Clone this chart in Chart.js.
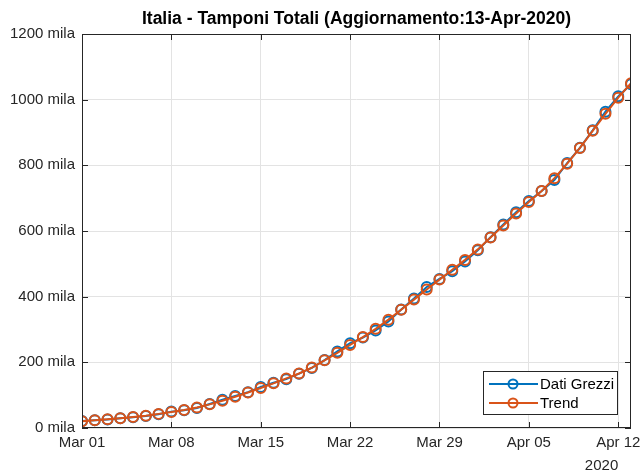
<!DOCTYPE html>
<html>
<head>
<meta charset="utf-8">
<script src="https://cdn.jsdelivr.net/npm/chart.js@4"></script>
<style>
  html, body { margin: 0; padding: 0; background: #fff; }
  #wrap { width: 643px; height: 474px; }
</style>
</head>
<body>
<div id="wrap"><canvas id="tamponi"></canvas></div>
<script>
// giorni dal 01-Mar al 13-Apr 2020
const days = ['Mar 01','Mar 02','Mar 03','Mar 04','Mar 05','Mar 06','Mar 07','Mar 08','Mar 09','Mar 10',
  'Mar 11','Mar 12','Mar 13','Mar 14','Mar 15','Mar 16','Mar 17','Mar 18','Mar 19','Mar 20',
  'Mar 21','Mar 22','Mar 23','Mar 24','Mar 25','Mar 26','Mar 27','Mar 28','Mar 29','Mar 30',
  'Mar 31','Apr 01','Apr 02','Apr 03','Apr 04','Apr 05','Apr 06','Apr 07','Apr 08','Apr 09',
  'Apr 10','Apr 11','Apr 12','Apr 13'];

// tamponi totali, in migliaia
const datiGrezzi = [21.1, 23.3, 25.9, 29.8, 32.4, 36.4, 42.1, 49.9, 53.8, 60.8,
  73.2, 86.0, 97.5, 109.2, 124.9, 138.0, 148.7, 165.5, 182.8, 206.9,
  233.2, 258.4, 275.5, 297.0, 324.4, 361.1, 394.1, 429.5, 454.0, 477.4,
  507.0, 541.4, 581.2, 619.8, 657.2, 691.5, 721.7, 755.4, 807.1, 853.4,
  906.9, 963.5, 1010.2, 1046.9];

const trend = [20.5, 23.5, 26.5, 30.0, 33.5, 37.5, 43.0, 48.5, 55.0, 62.5,
  72.0, 83.0, 95.0, 108.0, 122.0, 136.0, 151.0, 166.0, 184.0, 206.0,
  229.0, 253.0, 277.0, 302.0, 330.0, 360.0, 391.0, 422.0, 452.0, 482.0,
  512.0, 544.0, 580.0, 617.0, 653.0, 688.0, 722.0, 761.0, 805.0, 853.0,
  905.0, 957.0, 1006.0, 1050.0];

const xTicks = ['Mar 01', 'Mar 08', 'Mar 15', 'Mar 22', 'Mar 29', 'Apr 05', 'Apr 12'];
const yTicks = [0, 200, 400, 600, 800, 1000, 1200];

const titolo = 'Italia - Tamponi Totali (Aggiornamento:13-Apr-2020)';
const anno = '2020';

const blu = '#0072BD';
const arancio = '#D95319';
const assi = '#262626';
const font = '"Liberation Sans", Arial, Helvetica, sans-serif';

const toPoints = arr => arr.map((v, i) => ({ x: i, y: v }));

// box, tacche interne, titolo, legenda e anno alla maniera di MATLAB
const matlabAxes = {
  id: 'matlabAxes',
  afterDraw(chart) {
    const ctx = chart.ctx;
    const a = chart.chartArea;
    const xs = chart.scales.x, ys = chart.scales.y;
    ctx.save();
    ctx.strokeStyle = assi;
    ctx.lineWidth = 1;
    ctx.strokeRect(a.left + 0.5, a.top + 0.5, a.right - a.left - 1, a.bottom - a.top - 1);

    ctx.beginPath();
    xTicks.forEach(lbl => {
      const px = Math.round(xs.getPixelForValue(days.indexOf(lbl))) + 0.5;
      ctx.moveTo(px, a.bottom); ctx.lineTo(px, a.bottom - 6);
      ctx.moveTo(px, a.top); ctx.lineTo(px, a.top + 6);
    });
    yTicks.forEach(v => {
      const py = Math.round(ys.getPixelForValue(v)) + 0.5;
      ctx.moveTo(a.left, py); ctx.lineTo(a.left + 6, py);
      ctx.moveTo(a.right, py); ctx.lineTo(a.right - 6, py);
    });
    ctx.stroke();

    // titolo centrato sugli assi
    ctx.fillStyle = '#000';
    ctx.font = 'bold 17.5px ' + font;
    ctx.textAlign = 'center';
    ctx.textBaseline = 'middle';
    ctx.fillText(titolo, (a.left + a.right) / 2, 19);

    // anno sotto l'ultima tacca
    ctx.fillStyle = assi;
    ctx.font = '15px ' + font;
    ctx.textAlign = 'right';
    ctx.fillText(anno, xs.getPixelForValue(days.indexOf('Apr 12')), 466);

    // legenda
    const bw = 134, bh = 43;
    const bx = a.right - 14 - bw, by = a.bottom - 14 - bh;
    ctx.fillStyle = '#fff';
    ctx.fillRect(bx, by, bw, bh);
    ctx.strokeStyle = assi;
    ctx.lineWidth = 1;
    ctx.strokeRect(bx + 0.5, by + 0.5, bw, bh);
    chart.data.datasets.forEach((ds, i) => {
      const cy = by + 13 + i * 19;
      ctx.strokeStyle = ds.borderColor;
      ctx.lineWidth = 2;
      ctx.beginPath();
      ctx.moveTo(bx + 6, cy); ctx.lineTo(bx + 55, cy);
      ctx.stroke();
      ctx.beginPath();
      ctx.arc(bx + 30, cy, 4.5, 0, Math.PI * 2);
      ctx.stroke();
      ctx.fillStyle = '#000';
      ctx.font = '15px ' + font;
      ctx.textAlign = 'left';
      ctx.fillText(ds.label, bx + 57, cy + 1);
    });
    ctx.restore();
  }
};

new Chart(document.getElementById('tamponi'), {
  type: 'line',
  data: {
    datasets: [
      {
        label: 'Dati Grezzi',
        data: toPoints(datiGrezzi),
        order: 1,
        borderColor: blu,
        backgroundColor: blu,
        borderWidth: 2,
        pointRadius: 5,
        pointBorderWidth: 2,
        pointBackgroundColor: 'rgba(0,0,0,0)',
        pointBorderColor: blu,
        tension: 0
      },
      {
        label: 'Trend',
        data: toPoints(trend),
        order: 0,
        borderColor: arancio,
        backgroundColor: arancio,
        borderWidth: 2,
        pointRadius: 5,
        pointBorderWidth: 2,
        pointBackgroundColor: 'rgba(0,0,0,0)',
        pointBorderColor: arancio,
        tension: 0
      }
    ]
  },
  options: {
    responsive: true,
    maintainAspectRatio: false,
    animation: false,
    layout: { padding: { top: 34, right: 12, left: 0, bottom: 0 } },
    plugins: {
      legend: { display: false },
      title: { display: false },
      tooltip: { enabled: false }
    },
    scales: {
      x: {
        type: 'linear',
        min: 0,
        max: days.length - 1,
        afterBuildTicks: scale => {
          scale.ticks = xTicks.map(l => ({ value: days.indexOf(l) }));
        },
        afterFit: scale => {
          scale.height = 46;
          scale.paddingLeft = 0;
          scale.paddingRight = 0;
        },
        ticks: {
          autoSkip: false,
          maxRotation: 0,
          padding: 6,
          color: assi,
          font: { family: font, size: 15 },
          callback: v => days[v]
        },
        grid: { color: '#e3e3e3', drawTicks: false },
        border: { display: false }
      },
      y: {
        min: 0,
        max: 1200,
        afterBuildTicks: scale => {
          scale.ticks = yTicks.map(v => ({ value: v }));
        },
        afterFit: scale => {
          scale.width = 82;
          scale.paddingTop = 0;
          scale.paddingBottom = 0;
        },
        ticks: {
          padding: 7,
          color: assi,
          font: { family: font, size: 15 },
          callback: v => v + ' mila'
        },
        grid: { color: '#e3e3e3', drawTicks: false },
        border: { display: false }
      }
    }
  },
  plugins: [matlabAxes]
});
</script>
</body>
</html>
